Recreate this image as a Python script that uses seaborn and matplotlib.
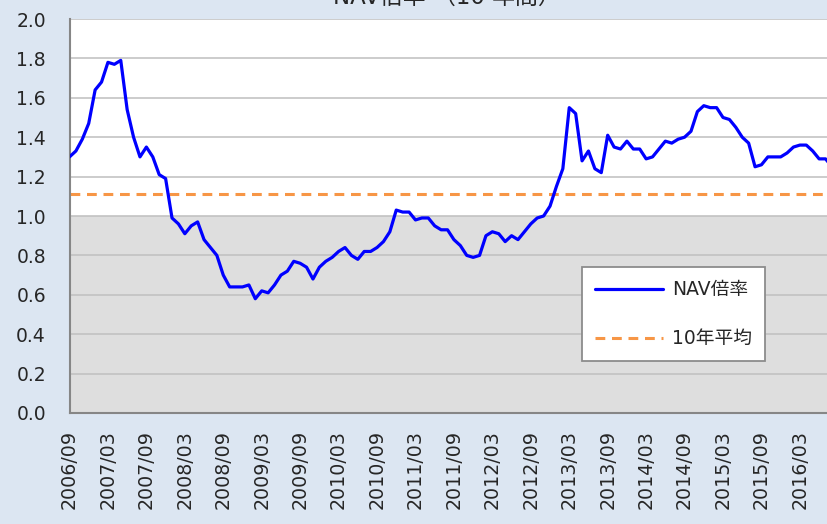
import matplotlib
matplotlib.use("Agg")
import matplotlib.pyplot as plt
import seaborn as sns
import numpy as np
import pandas as pd

# NAV倍率 (月次, 2006/09 - 2016/08)
start_month = "2006-09"
nav_ratio = [1.30, 1.33, 1.39, 1.47, 1.64, 1.68, 1.78, 1.77, 1.79, 1.54,
             1.40, 1.30, 1.35, 1.30, 1.21, 1.19, 0.99, 0.96, 0.91, 0.95,
             0.97, 0.88, 0.84, 0.80, 0.70, 0.64, 0.64, 0.64, 0.65, 0.58,
             0.62, 0.61, 0.65, 0.70, 0.72, 0.77, 0.76, 0.74, 0.68, 0.74,
             0.77, 0.79, 0.82, 0.84, 0.80, 0.78, 0.82, 0.82, 0.84, 0.87,
             0.92, 1.03, 1.02, 1.02, 0.98, 0.99, 0.99, 0.95, 0.93, 0.93,
             0.88, 0.85, 0.80, 0.79, 0.80, 0.90, 0.92, 0.91, 0.87, 0.90,
             0.88, 0.92, 0.96, 0.99, 1.00, 1.05, 1.15, 1.24, 1.55, 1.52,
             1.28, 1.33, 1.24, 1.22, 1.41, 1.35, 1.34, 1.38, 1.34, 1.34,
             1.29, 1.30, 1.34, 1.38, 1.37, 1.39, 1.40, 1.43, 1.53, 1.56,
             1.55, 1.55, 1.50, 1.49, 1.45, 1.40, 1.37, 1.25, 1.26, 1.30,
             1.30, 1.30, 1.32, 1.35, 1.36, 1.36, 1.33, 1.29, 1.29, 1.25]
avg_10y = 1.11

months = pd.period_range(start_month, periods=len(nav_ratio), freq="M").strftime("%Y/%m")
df = pd.DataFrame({"pos": np.arange(len(nav_ratio)), "month": months,
                   "NAV倍率": nav_ratio, "10年平均": avg_10y})

sns.set_style("white")
plt.rcParams["font.family"] = ["DejaVu Sans", "Noto Sans CJK JP"]

W, H = 827, 524
fig = plt.figure(figsize=(W / 100, H / 100), dpi=100, facecolor="#dce6f2")
x0, y0, y1 = 69.5, 413, 19
ax = fig.add_axes([x0 / W, (H - y0) / H, (W - x0) / W, (y0 - y1) / H])
ax.set_facecolor("white")

ax.axhspan(0, 1.0, color="#dedede", zorder=0)
for v in np.arange(0.2, 2.01, 0.2):
    ax.axhline(v, color="#bfbfbf", lw=1.1, zorder=1)

sns.lineplot(data=df, x="pos", y="NAV倍率", color="#0000ff", lw=2.3,
             label="NAV倍率", ax=ax, zorder=3)
sns.lineplot(data=df, x="pos", y="10年平均", color="#f79646", lw=2.2,
             dashes=False, label="10年平均", ax=ax, zorder=2)
ax.lines[-1].set_linestyle((0, (3.2, 2.2)))

ax.set_xlim(0, (W - x0) / 6.407)
ax.set_ylim(0, 2.0)
ax.set_yticks(np.arange(0, 2.01, 0.2))
ax.set_yticklabels([f"{v:.1f}" for v in np.arange(0, 2.01, 0.2)], fontsize=13.5)
tick_pos = df["pos"][::6]
ax.set_xticks(tick_pos)
ax.set_xticklabels(df["month"][::6], rotation=90, fontsize=13.7)
ax.tick_params(axis="both", direction="out", length=5, width=1.1,
               color="#868686")
ax.tick_params(axis="x", pad=7)
ax.tick_params(axis="y", pad=12)
ax.set_xlabel("")
ax.set_ylabel("")
for s in ["top", "right"]:
    ax.spines[s].set_visible(False)
for s in ["left", "bottom"]:
    ax.spines[s].set_color("#868686")
    ax.spines[s].set_linewidth(1.5)

leg = ax.legend(loc="upper left", bbox_to_anchor=(582 / W, 1 - 267 / H),
                bbox_transform=fig.transFigure, frameon=True, fancybox=False,
                fontsize=13.5, handlelength=3.6, handletextpad=0.5,
                labelspacing=1.6, borderpad=0.7, borderaxespad=0)
leg.get_frame().set_edgecolor("#8c8c8c")
leg.get_frame().set_linewidth(1.3)
leg.get_frame().set_alpha(1)

fig.text(447 / W, 1 - 4 / H, "NAV倍率 （10 年間）", ha="center", va="baseline",
         fontsize=16.5, family=["DejaVu Sans", "Noto Sans CJK JP"])

fig.savefig("out.png", dpi=100, facecolor=fig.get_facecolor())
